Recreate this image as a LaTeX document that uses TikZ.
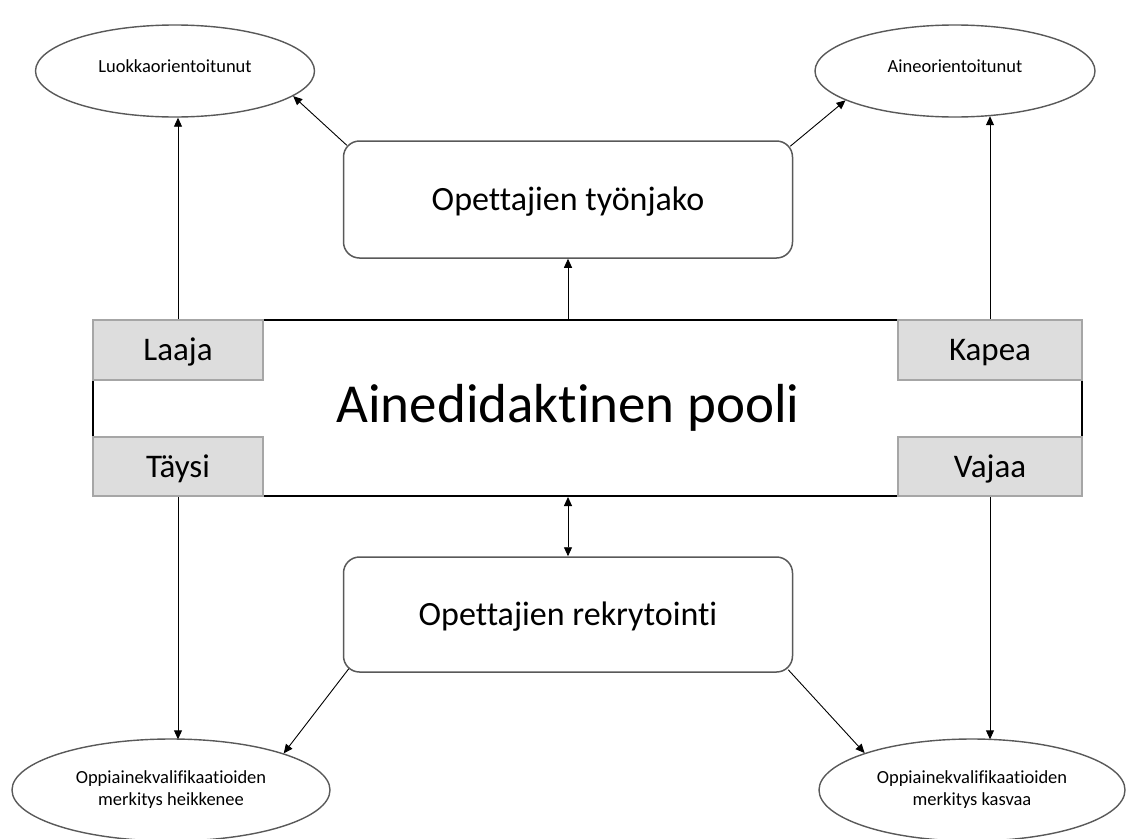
\documentclass[tikz,border=0pt]{standalone}
\usepackage{fontspec}
\setmainfont[Ligatures=NoCommon]{Carlito}
\usetikzlibrary{arrows.meta,shapes.geometric}
\definecolor{edgegrey}{HTML}{595959}
\definecolor{tagfill}{HTML}{DDDDDD}
\definecolor{tagline}{HTML}{A6A6A6}
\tikzset{
  oval/.style={ellipse, draw=edgegrey, line width=1.4pt, fill=white, inner sep=0pt, align=center, font=\fontsize{18.5}{22}\selectfont},
  roundbox/.style={rectangle, rounded corners=16pt, draw=edgegrey, line width=1.5pt, fill=white, inner sep=0pt, text height=26pt, text depth=4pt, font=\fontsize{34}{40}\selectfont},
  tagbox/.style={rectangle, draw=tagline, fill=tagfill, line width=2pt, inner sep=0pt, text height=25pt, text depth=4pt, font=\fontsize{33}{38}\selectfont},
  conn/.style={line width=0.9pt, -{Triangle[length=9pt,width=8pt]}},
  dconn/.style={line width=0.9pt, {Triangle[length=9pt,width=8pt]}-{Triangle[length=9pt,width=8pt]}},
}
\begin{document}
\begin{tikzpicture}[x=1pt,y=-1pt]
\useasboundingbox (0,0) rectangle (1129,838);
% central box
\node[draw=black, line width=2pt, minimum width=989pt, minimum height=176pt, inner sep=0pt] (pool) at (587.5,408) {};
\node[inner sep=0pt, font=\fontsize{55}{64}\selectfont] (pooltext) at (568,408) {Ainedidaktinen pooli};
% tags
\node[tagbox, minimum width=170pt, minimum height=60pt] (laaja) at (178,350) {Laaja};
\node[tagbox, minimum width=170pt, minimum height=59pt] (taysi) at (178,466.5) {Täysi};
\node[tagbox, minimum width=184pt, minimum height=60pt] (kapea) at (990,350) {Kapea};
\node[tagbox, minimum width=184pt, minimum height=59pt] (vajaa) at (990,466.5) {Vajaa};
% rounded boxes
\node[roundbox, minimum width=449pt, minimum height=117pt] (tyo) at (568,199.5) {Opettajien työnjako};
\node[roundbox, minimum width=449pt, minimum height=115pt] (rekry) at (568,614.5) {Opettajien rekrytointi};
% ellipses
\node[oval, minimum width=279pt, minimum height=92pt, text height=13pt, text depth=10pt] (luokka) at (175,71) {Luokkaorientoitunut};
\node[oval, minimum width=280pt, minimum height=92pt, text height=13pt, text depth=10pt] (aine) at (955,71) {Aineorientoitunut};
\node[oval, minimum width=318pt, minimum height=102pt] (heikk) at (171,790) {Oppiainekvalifikaatioiden\\merkitys heikkenee};
\node[oval, minimum width=306pt, minimum height=102pt] (kasv) at (972,790) {Oppiainekvalifikaatioiden\\merkitys kasvaa};
% connectors
\draw[conn] (laaja.north) -- (laaja.north |- luokka.south);
\draw[conn] (kapea.north) -- ([yshift=1.5pt]kapea.north |- aine.south);
\draw[conn] (taysi.south) -- ([yshift=-1pt]taysi.south |- heikk.north);
\draw[conn] (vajaa.south) -- ([yshift=-1pt]vajaa.south |- kasv.north);
\draw[conn] (pool.north -| tyo.south) -- (tyo.south);
\draw[dconn] (pool.south -| rekry.north) -- (rekry.north);
\draw[conn] (tyo.north west) ++(4,5) coordinate (tnw) (tnw) -- (luokka.-12);
\draw[conn] (tyo.north east) ++(-3,6) coordinate (tne) (tne) -- (aine.-165);
\draw[conn] (rekry.south west) ++(6,-4) coordinate (rsw) (rsw) -- (heikk.18);
\draw[conn] (rekry.south east) ++(-5,-3) coordinate (rse) (rse) -- (kasv.161);
\end{tikzpicture}
\end{document}
